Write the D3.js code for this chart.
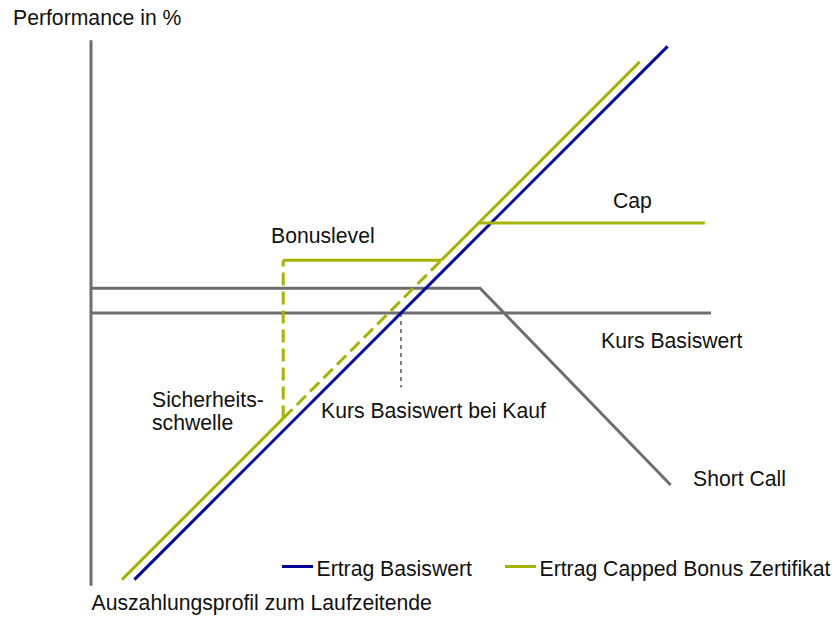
<!DOCTYPE html>
<html>
<head>
<meta charset="utf-8">
<script src="https://cdn.jsdelivr.net/npm/d3@7"></script>
<style>
  html, body { margin: 0; padding: 0; background: #fff; }
  svg { display: block; }
  text { font-family: "Liberation Sans", Arial, sans-serif; font-size: 21.2px; fill: #111; }
</style>
</head>
<body>
<svg id="chart" width="838" height="618"></svg>
<script>
// ---- data (price of underlying in %, performance in %) ----
const priceDomain = [0, 200];
const perfDomain = [-88, 88];

// Ertrag Basiswert (underlying): performance = price - 100
const basisPrice = [14, 186];
const basisPerf  = [-86, 86];

// Ertrag Capped Bonus Zertifikat (drawn pieces)
const bonusLowPrice   = [10, 62];
const bonusLowPerf    = [-86, -34];
const bonusDashPrice  = [62, 113];
const bonusDashPerf   = [-34, 17];
const bonusHighPrice  = [113, 177];
const bonusHighPerf   = [17, 81];

const bonusLevelPrice = [62, 113];
const bonusLevelPerf  = [17, 17];
const barrierPrice    = [62, 62];
const barrierPerf     = [-34, 17];
const capPrice        = [125, 198];
const capPerf         = [29, 29];

// Short Call
const shortCallPrice = [0, 125.5, 187];
const shortCallPerf  = [8, 8, -55.5];

// Kurs Basiswert axis and purchase price marker
const kursAxisPrice = [0, 200];
const kursAxisPerf  = [0, 0];
const perfAxisPrice = [0, 0];
const perfAxisPerf  = [-88, 88];
const kaufPrice = [100, 100];
const kaufPerf  = [0, -24];

const legendLabels = ["Ertrag Basiswert", "Ertrag Capped Bonus Zertifikat"];

// ---- drawing ----
const svg = d3.select("#chart");
const x = d3.scaleLinear().domain(priceDomain).range([91, 711]);
const y = d3.scaleLinear().domain(perfDomain).range([585.8, 40.2]);

const GRAY = "#6e6e6e", BLUE = "#00009a", GREEN = "#a6b400";

const line = d3.line().x(d => x(d[0])).y(d => y(d[1]));
const zip = (a, b) => a.map((v, i) => [v, b[i]]);

function path(px, py, color, width, dash) {
  const p = svg.append("path")
    .attr("d", line(zip(px, py)))
    .attr("fill", "none")
    .attr("stroke", color)
    .attr("stroke-width", width)
    .attr("stroke-linejoin", "miter");
  if (dash) p.attr("stroke-dasharray", dash);
  return p;
}

// axes
path(perfAxisPrice, perfAxisPerf, GRAY, 3);
path(kursAxisPrice, kursAxisPerf, GRAY, 3);
path(shortCallPrice, shortCallPerf, GRAY, 3);
path(kaufPrice, kaufPerf, "#555", 1.5, "4,4");

// underlying
path(basisPrice, basisPerf, BLUE, 3);

// bonus certificate
path(bonusLowPrice, bonusLowPerf, GREEN, 3);
path(bonusDashPrice, bonusDashPerf, GREEN, 3, "13,6");
path(bonusHighPrice, bonusHighPerf, GREEN, 3);
path(bonusLevelPrice, bonusLevelPerf, GREEN, 3);
path(barrierPrice, barrierPerf, GREEN, 3, "13,6");
path(capPrice, capPerf, GREEN, 3);

// labels
const labels = [
  ["Performance in %", 13, 25],
  ["Bonuslevel", 271, 242.5],
  ["Cap", 613, 207.5],
  ["Kurs Basiswert", 601, 347.5],
  ["Short Call", 693, 485.5],
  ["Sicherheits-", 152, 406.5],
  ["schwelle", 152, 430],
  ["Kurs Basiswert bei Kauf", 321, 418],
  ["Auszahlungsprofil zum Laufzeitende", 91.5, 610]
];
svg.selectAll("text.lbl").data(labels).enter().append("text")
  .attr("class", "lbl")
  .attr("x", d => d[1]).attr("y", d => d[2])
  .text(d => d[0]);

// legend
const legendItems = [
  { label: legendLabels[0], color: BLUE, x0: 282 },
  { label: legendLabels[1], color: GREEN, x0: 505 }
];
legendItems.forEach(it => {
  svg.append("line")
    .attr("x1", it.x0).attr("x2", it.x0 + 31)
    .attr("y1", 566.5).attr("y2", 566.5)
    .attr("stroke", it.color).attr("stroke-width", 3);
  svg.append("text")
    .attr("x", it.x0 + 34.5).attr("y", 576)
    .text(it.label);
});
</script>
</body>
</html>
